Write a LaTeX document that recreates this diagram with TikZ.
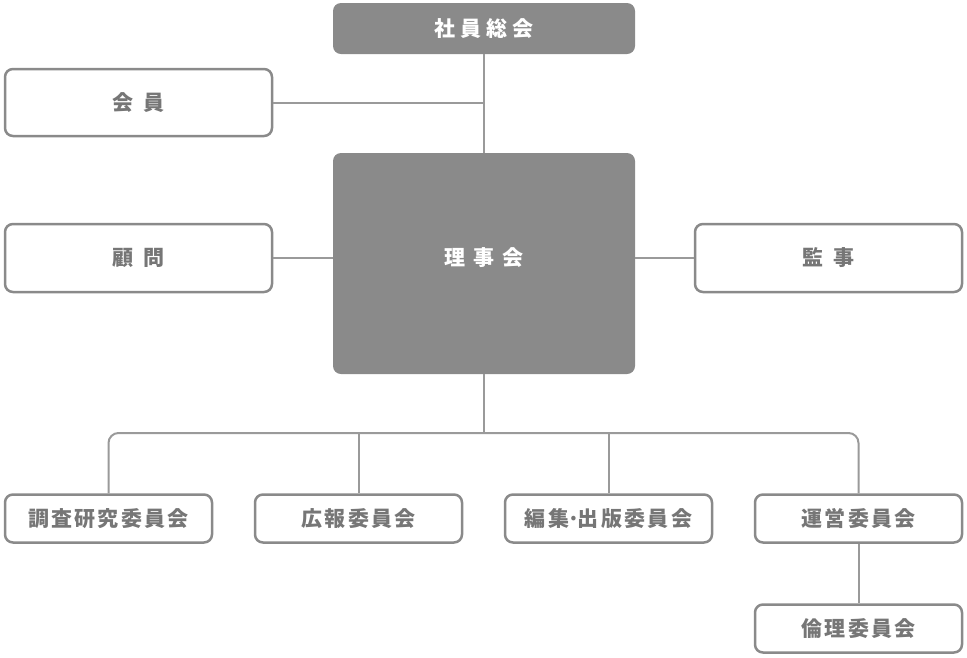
\documentclass[tikz,border=0pt]{standalone}
\usepackage{fontspec}
\newfontfamily\jp[LetterSpace=11]{Noto Sans CJK JP}
\newfontfamily\jpm[LetterSpace=25]{Noto Sans CJK JP}
\newfontfamily\jpw[LetterSpace=38]{Noto Sans CJK JP}
\definecolor{boxgray}{HTML}{8A8A8A}
\definecolor{txtgray}{HTML}{767676}
\definecolor{linegray}{HTML}{9A9A9A}
\tikzset{
  filledbox/.style={draw=none, fill=boxgray, rounded corners=8pt, text=white, inner sep=0pt},
  openbox/.style={draw=boxgray, line width=2.5pt, fill=white, rounded corners=8pt, text=txtgray, font=\jp\fontsize{21}{23}\selectfont\bfseries, inner sep=0pt},
  conn/.style={draw=linegray, line width=2pt}
}
\begin{document}
\begin{tikzpicture}[x=1pt,y=-1pt]
\useasboundingbox (0,0) rectangle (967,657);
\coordinate (bus) at (484,433);
\node[filledbox, minimum width=302pt, minimum height=51pt, font=\jpm\fontsize{21}{23}\selectfont\bfseries] (soukai) at (484,28.5) {社員総会\hspace{-5.2pt}};
\node[filledbox, minimum width=302pt, minimum height=221pt] (riji) at (484,263.5) {};
\node[text=white, font=\jpw\fontsize{21}{23}\selectfont\bfseries, inner sep=0pt] (rijitext) at (484,258) {理事会\hspace{-8pt}};
\node[openbox, minimum width=267pt, minimum height=67pt] (kaiin) at (138.5,102.5) {会\hspace{10pt}員\hspace{-2.3pt}};
\node[openbox, minimum width=267pt, minimum height=68pt] (komon) at (138.5,258) {顧\hspace{10pt}問\hspace{-2.3pt}};
\node[openbox, minimum width=267pt, minimum height=68pt] (kanji) at (828.5,258) {監\hspace{11pt}事\hspace{-2.3pt}};
\node[openbox, minimum width=207pt, minimum height=48pt] (chousa) at (108.5,518.5) {調査研究委員会\hspace{-2.3pt}};
\node[openbox, minimum width=207pt, minimum height=48pt] (kouhou) at (358.5,518.5) {広報委員会\hspace{-2.3pt}};
\node[openbox, minimum width=207pt, minimum height=48pt] (henshu) at (608.5,518.5) {編集\hspace{-2pt}·\hspace{-2pt}出版委員会\hspace{-2.3pt}};
\node[openbox, minimum width=207pt, minimum height=48pt] (unei) at (858.5,518.5) {運営委員会\hspace{-2.3pt}};
\node[openbox, minimum width=207pt, minimum height=48pt] (rinri) at (858.5,628.5) {倫理委員会\hspace{-2.3pt}};
\draw[conn] (soukai.south) -- (riji.north);
\draw[conn] (kaiin.east) -- (kaiin.east -| soukai.south);
\draw[conn] (komon.east) -- (komon.east -| riji.west);
\draw[conn] (kanji.west) -- (kanji.west -| riji.east);
\draw[conn] (riji.south) -- (bus);
\draw[conn, rounded corners=10pt] (chousa.north) |- (bus) -| (unei.north);
\draw[conn] (kouhou.north) -- (kouhou.north |- bus);
\draw[conn] (henshu.north) -- (henshu.north |- bus);
\draw[conn] (unei.south) -- (rinri.north);
\end{tikzpicture}
\end{document}
